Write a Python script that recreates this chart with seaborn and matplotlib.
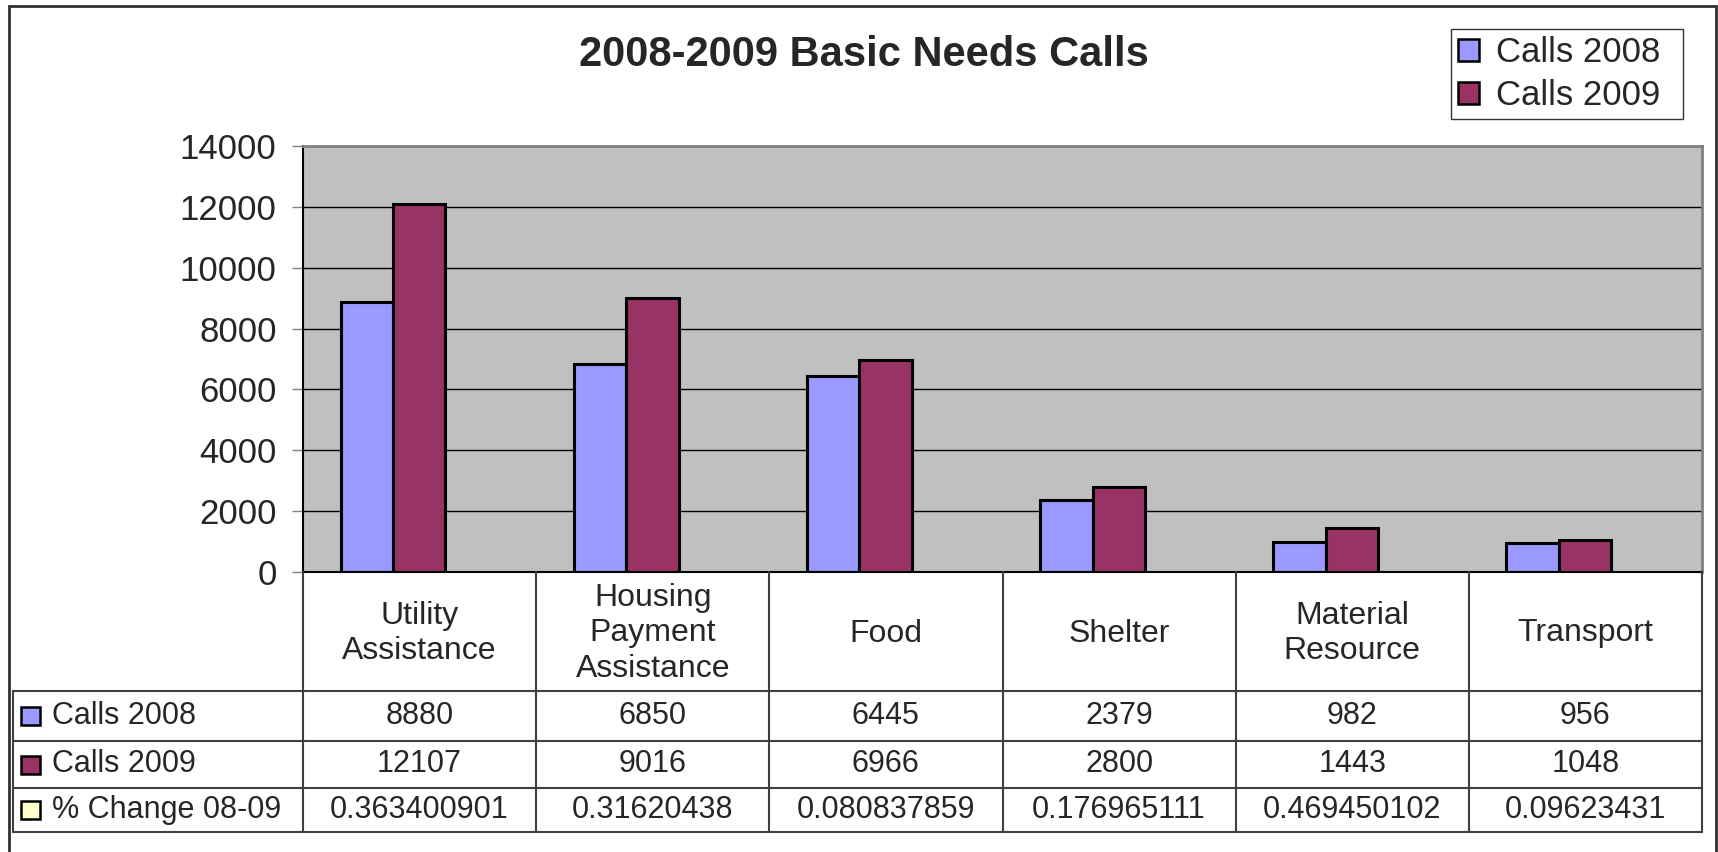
"""2008-2009 basic needs calls: grouped bar chart with data table below."""

import matplotlib

matplotlib.use("Agg")

import matplotlib.pyplot as plt
import numpy as np
import pandas as pd
import seaborn as sns
from matplotlib.lines import Line2D
from matplotlib.patches import Rectangle


categories = ["Utility Assistance", "Housing Payment Assistance", "Food", "Shelter", "Material Resource", "Transport"]
category_labels = ["Utility\nAssistance", "Housing\nPayment\nAssistance", "Food", "Shelter", "Material\nResource", "Transport"]
calls_2008 = [8880, 6850, 6445, 2379, 982, 956]
calls_2009 = [12107, 9016, 6966, 2800, 1443, 1048]
pct_change = ["0.363400901", "0.31620438", "0.080837859", "0.176965111", "0.469450102", "0.09623431"]
series_names = ["Calls 2008", "Calls 2009", "% Change 08-09"]
series_colors = ["#9999FF", "#993366", "#FFFFCC"]
y_ticks = [0, 2000, 4000, 6000, 8000, 10000, 12000, 14000]

W, H = 1718, 852
FONT = ["Liberation Sans", "DejaVu Sans"]


def fx(x):
    return x / W


def fy(y):
    return 1 - y / H


sns.set_style("white")
plt.rcParams["font.family"] = FONT

fig = plt.figure(figsize=(W / 100, H / 100), dpi=100)
ax_left, ax_right, ax_top, ax_bottom = 303, 1702, 146, 572
ax = fig.add_axes([fx(ax_left), fy(ax_bottom), fx(ax_right - ax_left), (ax_bottom - ax_top) / H])

df = pd.DataFrame(
    {
        "category": categories * 2,
        "calls": calls_2008 + calls_2009,
        "series": [series_names[0]] * len(categories) + [series_names[1]] * len(categories),
    }
)
sns.barplot(
    data=df,
    x="category",
    y="calls",
    hue="series",
    order=categories,
    hue_order=series_names[:2],
    palette=series_colors[:2],
    saturation=1,
    width=0.45,
    edgecolor="black",
    linewidth=2.2,
    errorbar=None,
    legend=False,
    ax=ax,
)

# bars sit a little left of the table column centres in the original
ax.set_xlim(-0.5 + 0.114, len(categories) - 0.5 + 0.114)
ax.set_ylim(0, 14000)
ax.set_yticks(y_ticks)
ax.set_yticklabels([str(t) for t in y_ticks])
ax.set_xticks([])
ax.set_xlabel("")
ax.set_ylabel("")
ax.set_facecolor("#C0C0C0")
ax.yaxis.grid(True, color="black", linewidth=1)
ax.set_axisbelow(True)
for side in ["top", "right"]:
    ax.spines[side].set_color("#808080")
    ax.spines[side].set_linewidth(2)
for side in ["left", "bottom"]:
    ax.spines[side].set_color("black")
    ax.spines[side].set_linewidth(1.5)
ax.tick_params(axis="y", left=True, length=8, width=1, color="#808080", pad=11, labelsize=25)

fig.text(fx(864), fy(55), "2008-2009 Basic Needs Calls", ha="center", va="center",
         fontsize=30, fontweight="bold")

# legend, stretched to the width of the original box
handles = [Rectangle((0, 0), 1, 1, facecolor=c, edgecolor="black", linewidth=1.8) for c in series_colors[:2]]
leg = fig.legend(
    handles,
    series_names[:2],
    loc="upper left",
    bbox_to_anchor=(fx(1451), fy(122), fx(232), 93 / H),
    mode="expand",
    frameon=True,
    fancybox=False,
    edgecolor="black",
    fontsize=25,
    handlelength=0.6,
    handleheight=0.6,
    handletextpad=0.5,
    labelspacing=0.3,
    borderpad=0.2,
    borderaxespad=0,
)
leg.get_frame().set_linewidth(1)

# data table below the plot
table_left, table_bottom = 13, 832
row_lines = [691, 741, 788, 832]
col_edges = np.linspace(ax_left, ax_right, len(categories) + 1)
line_kw = dict(color="#404040", linewidth=1.5, transform=fig.transFigure)

for x in col_edges:
    fig.add_artist(Line2D([fx(x), fx(x)], [fy(ax_bottom), fy(table_bottom)], **line_kw))
fig.add_artist(Line2D([fx(table_left), fx(table_left)], [fy(row_lines[0]), fy(table_bottom)], **line_kw))
for y in row_lines:
    fig.add_artist(Line2D([fx(table_left), fx(ax_right)], [fy(y), fy(y)], **line_kw))

col_centres = (col_edges[:-1] + col_edges[1:]) / 2
header_mid = (ax_bottom + row_lines[0]) / 2 + 2
for xc, label in zip(col_centres, category_labels):
    fig.text(fx(xc), fy(header_mid), label, ha="center", va="center", fontsize=23, linespacing=1.25)

row_values = [
    [str(v) for v in calls_2008],
    [str(v) for v in calls_2009],
    pct_change,
]
for r, (name, colour, values) in enumerate(zip(series_names, series_colors, row_values)):
    y_mid = (row_lines[r] + row_lines[r + 1]) / 2
    fig.add_artist(Rectangle((fx(21), fy(y_mid + 9)), fx(19), 18 / H, facecolor=colour,
                             edgecolor="black", linewidth=1.8, transform=fig.transFigure))
    fig.text(fx(52), fy(y_mid), name, ha="left", va="center", fontsize=22)
    for xc, val in zip(col_centres, values):
        fig.text(fx(xc), fy(y_mid), val, ha="center", va="center", fontsize=22)

# outer chart frame
fig.add_artist(Rectangle((fx(9), fy(H + 10)), fx(1716 - 9), (H + 10 - 6) / H, fill=False,
                         edgecolor="#303030", linewidth=2, transform=fig.transFigure))

fig.savefig("out.png", dpi=100)
plt.close(fig)
